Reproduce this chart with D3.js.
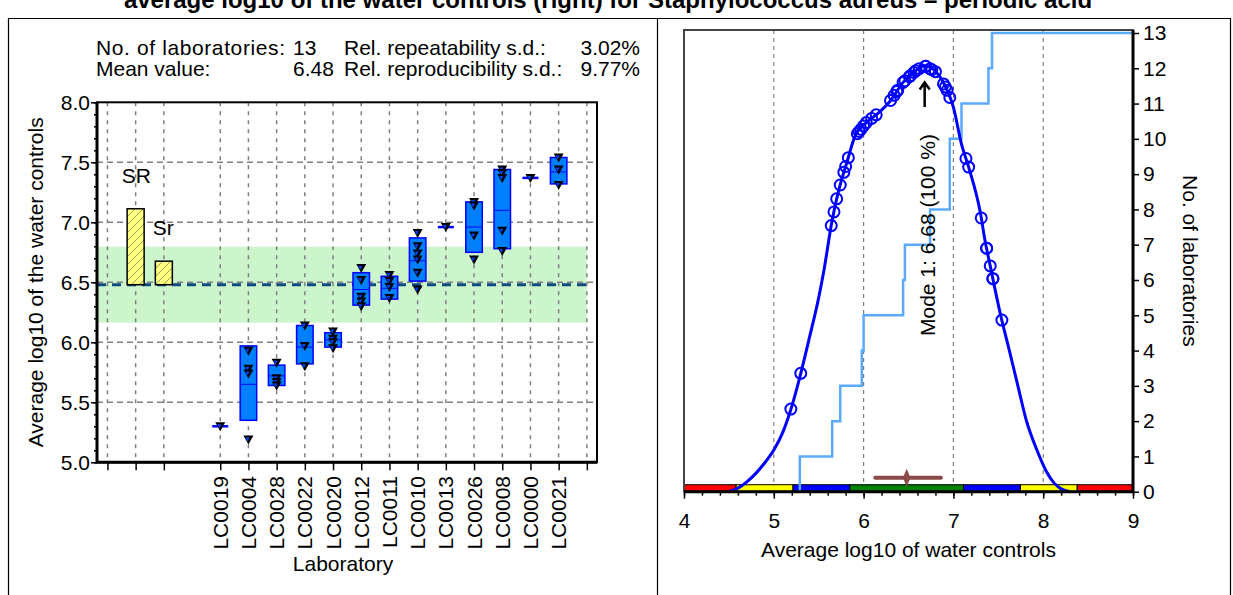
<!DOCTYPE html>
<html lang="en">
<head>
<meta charset="UTF-8">
<title>Average log10 of the water controls</title>
<script src="https://d3js.org/d3.v7.min.js"></script>
<style>
    body { margin: 0; background: #fff; }
    svg text { font-family: "Liberation Sans", Arial, sans-serif; font-size: 21px; fill: #000; }
    .axis path { display: none; }
    .axis line { stroke: #000; stroke-width: 1.5; }
    .axis text { font-size: 21px; }
</style>
</head>
<body>
<svg id="chart" width="1233" height="595"></svg>
<script>
// ---- data ----
const titleText = "average log10 of the water controls (right) for Staphylococcus aureus \u2013 periodic acid";

const labs = ["LC0019", "LC0004", "LC0028", "LC0022", "LC0020", "LC0012", "LC0011",
              "LC0010", "LC0013", "LC0026", "LC0008", "LC0000", "LC0021"];
const boxLow  = [5.30, 5.35, 5.64, 5.82, 5.96, 6.31, 6.36, 6.51, 6.96, 6.75, 6.78, 7.37, 7.32];
const boxHigh = [5.30, 5.97, 5.81, 6.14, 6.08, 6.58, 6.55, 6.87, 6.96, 7.17, 7.44, 7.37, 7.54];
const boxMid  = [5.30, 5.65, 5.72, 5.96, 6.02, 6.44, 6.45, 6.68, 6.96, 6.96, 7.10, 7.37, 7.42];
const labMeans = [5.29, 5.65, 5.74, 5.98, 6.00, 6.44, 6.46, 6.74, 6.96, 6.96, 7.09, 7.39, 7.43];
const replicates = [
    [5.30],
    [5.93, 5.78, 5.74, 5.19],
    [5.83, 5.70, 5.67, 5.64],
    [6.14, 5.97, 5.80],
    [6.09, 6.03, 6.00, 5.95],
    [6.62, 6.52, 6.38, 6.34, 6.30],
    [6.56, 6.51, 6.46, 6.37],
    [6.91, 6.80, 6.74, 6.69, 6.58, 6.44],
    [6.96],
    [7.17, 7.14, 6.89, 6.69],
    [7.44, 7.41, 7.37, 6.93, 6.76],
    [7.37],
    [7.54, 7.44, 7.31]
];

const meanValue = 6.48;
const sdLabels = ["SR", "Sr"];
const sdValues = [0.633, 0.196];
const statsRows = [
    ["No. of laboratories:", "13", "Rel. repeatability s.d.:", "3.02%"],
    ["Mean value:", "6.48", "Rel. reproducibility s.d.:", "9.77%"]
];

// kernel density (x, height in count units)
const densityX = [4.50, 4.60, 4.70, 4.80, 4.90, 5.00, 5.10, 5.18, 5.29, 5.40, 5.50, 5.56, 5.645, 5.70,
                  5.756, 5.81, 5.90, 6.03, 6.15, 6.29, 6.44, 6.59, 6.68, 6.81, 6.925, 7.00, 7.09,
                  7.17, 7.30, 7.35, 7.41, 7.52, 7.63, 7.72, 7.81, 7.93, 8.04, 8.12, 8.20, 8.30];
const densityY = [0.00, 0.10, 0.28, 0.52, 0.82, 1.18, 1.68, 2.25, 3.25, 4.40, 5.50, 6.30, 7.62, 8.30,
                  8.85, 9.30, 10.05, 10.46, 10.70, 11.05, 11.60, 11.95, 12.07, 11.89, 11.41, 10.90, 9.85,
                  9.20, 7.91, 7.15, 6.40, 5.07, 3.93, 2.98, 2.04, 1.18, 0.55, 0.25, 0.08, 0.00];
const modeValue = 6.68;
const modeText = "Mode 1: 6.68  (100 %)";
const bandSteps = [-3, -2, -1, 1, 2, 3];
const bandColors = ["#ff0000", "#ffff00", "#0000ff", "#008000", "#0000ff", "#ffff00", "#ff0000"];
const meanInterval = [6.13, 6.86];

const svg = d3.select("#chart");

// ---- page frame + title ----
svg.append("text")
    .attr("x", 608).attr("y", 8)
    .attr("text-anchor", "middle")
    .style("font-weight", "bold").style("font-size", "24px")
    .text(titleText);

const frame = svg.append("g").attr("stroke", "#000").attr("stroke-width", 1.2);
frame.append("line").attr("x1", 8).attr("x2", 1231).attr("y1", 18.5).attr("y2", 18.5);
[8.5, 657.5, 1230.5].forEach(x =>
    frame.append("line").attr("x1", x).attr("x2", x).attr("y1", 18).attr("y2", 595));

// =================== LEFT: laboratory box plot ===================
const xL = d3.scaleLinear().domain([-0.37, 17.36]).range([97, 597]);
const yL = d3.scaleLinear().domain([5, 8]).range([462.3, 102.3]);
const left = svg.append("g");

// stats text
statsRows.forEach((row, i) => {
    const y = 55 + i * 21;
    const t0 = left.append("text").attr("x", 96).attr("y", y).text(row[0]);
    if (i === 0) t0.attr("textLength", 189).attr("lengthAdjust", "spacing");
    left.append("text").attr("x", 293).attr("y", y).text(row[1]);
    left.append("text").attr("x", 344).attr("y", y).text(row[2]);
    left.append("text").attr("x", 640).attr("y", y).attr("text-anchor", "end").text(row[3]);
});

// green band = mean +/- SR/2
left.append("rect")
    .attr("x", xL.range()[0]).attr("width", xL(17) - xL.range()[0])
    .attr("y", yL(meanValue + sdValues[0] / 2))
    .attr("height", yL(meanValue - sdValues[0] / 2) - yL(meanValue + sdValues[0] / 2))
    .attr("fill", "#ccf5cc");

// grid
const slots = d3.range(0, 18).filter(i => i !== 3);
left.append("g").selectAll("line").data(slots).join("line")
    .attr("x1", d => xL(d)).attr("x2", d => xL(d))
    .attr("y1", yL(8)).attr("y2", yL(5))
    .attr("stroke", "#808080").attr("stroke-width", 1.5).attr("stroke-dasharray", "4,5");
left.append("g").selectAll("line").data([5.5, 6, 6.5, 7, 7.5]).join("line")
    .attr("x1", xL.range()[0]).attr("x2", xL.range()[1])
    .attr("y1", d => yL(d)).attr("y2", d => yL(d))
    .attr("stroke", "#808080").attr("stroke-width", 1.5).attr("stroke-dasharray", "6,4");

// mean line
left.append("line")
    .attr("x1", xL.range()[0]).attr("x2", xL(17) + 4)
    .attr("y1", yL(meanValue)).attr("y2", yL(meanValue))
    .attr("stroke", "#0d4a80").attr("stroke-width", 3).attr("stroke-dasharray", "9,6");

// SR / Sr bars with hatching
const defs = svg.append("defs");
const pat = defs.append("pattern").attr("id", "hatch")
    .attr("patternUnits", "userSpaceOnUse").attr("width", 8).attr("height", 8);
pat.append("rect").attr("width", 8).attr("height", 8).attr("fill", "#ffff80");
pat.append("path").attr("d", "M-2,2 l4,-4 M0,8 l8,-8 M6,10 l4,-4")
    .attr("stroke", "#a0a060").attr("stroke-width", 1);

sdValues.forEach((v, i) => {
    const cx = xL(i + 1);
    left.append("rect")
        .attr("x", cx - 8.5).attr("width", 17)
        .attr("y", yL(meanValue + v)).attr("height", yL(meanValue) - yL(meanValue + v))
        .attr("fill", "url(#hatch)").attr("stroke", "#000").attr("stroke-width", 1.5);
});
left.append("text").attr("x", xL(1) - 14).attr("y", yL(meanValue + sdValues[0]) - 26).text(sdLabels[0]);
left.append("text").attr("x", xL(1) + 17).attr("y", yL(meanValue + sdValues[1]) - 26).text(sdLabels[1]);

// boxes
const boxW = 16.5;
labs.forEach((lab, i) => {
    const cx = xL(i + 4);
    const g = left.append("g");
    if (boxHigh[i] - boxLow[i] < 0.01) {
        g.append("line")
            .attr("x1", cx - 8).attr("x2", cx + 8)
            .attr("y1", yL(boxMid[i])).attr("y2", yL(boxMid[i]))
            .attr("stroke", "#0000ff").attr("stroke-width", 2.5);
    } else {
        g.append("rect")
            .attr("x", cx - boxW / 2).attr("width", boxW)
            .attr("y", yL(boxHigh[i])).attr("height", yL(boxLow[i]) - yL(boxHigh[i]))
            .attr("fill", "#0080ff").attr("stroke", "#0000ff").attr("stroke-width", 1.5);
        g.append("line")
            .attr("x1", cx - boxW / 2).attr("x2", cx + boxW / 2)
            .attr("y1", yL(boxMid[i])).attr("y2", yL(boxMid[i]))
            .attr("stroke", "#0000ff").attr("stroke-width", 1);
    }
    // replicate markers
    g.selectAll(".mk").data(replicates[i]).join("g")
        .attr("class", "mk")
        .attr("transform", d => `translate(${cx},${yL(d)})`)
        .each(function () {
            const m = d3.select(this);
            m.append("path").attr("d", "M-5,-4 L5,-4 L0,5 Z").attr("fill", "#000");
            m.append("path").attr("d", "M-3,-2 L1,-2 L-1,2 Z").attr("fill", "#0040ff");
        });
});

// axes
left.append("g").attr("class", "axis")
    .attr("transform", `translate(${xL.range()[0]},0)`)
    .call(d3.axisLeft(yL).tickValues(d3.range(5, 8.01, 0.1)).tickSize(3).tickFormat(""));
left.append("g").attr("class", "axis")
    .attr("transform", `translate(${xL.range()[0]},0)`)
    .call(d3.axisLeft(yL).tickValues(d3.range(5, 8.01, 0.5)).tickSize(6).tickPadding(1)
        .tickFormat(d3.format(".1f")));
left.append("g").attr("class", "axis")
    .attr("transform", `translate(0,${yL(5)})`)
    .call(d3.axisBottom(xL).tickValues(slots).tickSize(8).tickFormat(""));

left.selectAll(".lab").data(labs).join("text")
    .attr("class", "lab")
    .attr("transform", (d, i) => `translate(${xL(i + 4) + 7.5},476) rotate(-90)`)
    .attr("text-anchor", "end")
    .text(d => d);

// frame
left.append("rect")
    .attr("x", xL.range()[0]).attr("y", yL(8))
    .attr("width", xL.range()[1] - xL.range()[0]).attr("height", yL(5) - yL(8))
    .attr("fill", "none").attr("stroke", "#000").attr("stroke-width", 2);
left.append("path")
    .attr("d", `M${xL.range()[0]},${yL(8)} V${yL(5)} H${xL.range()[1]}`)
    .attr("fill", "none").attr("stroke", "#000").attr("stroke-width", 3);

left.append("text")
    .attr("transform", `translate(43,${(yL(5) + yL(8)) / 2}) rotate(-90)`)
    .attr("text-anchor", "middle")
    .text("Average log10 of the water controls");
left.append("text")
    .attr("x", 343).attr("y", 571).attr("text-anchor", "middle")
    .text("Laboratory");

// =================== RIGHT: kernel density ===================
const xR = d3.scaleLinear().domain([4, 9]).range([684, 1133]);
const yR = d3.scaleLinear().domain([0, 13]).range([491.7, 33]);
const right = svg.append("g");
const plotTop = 30;

right.append("g").selectAll("line").data([5, 6, 7, 8]).join("line")
    .attr("x1", d => xR(d)).attr("x2", d => xR(d))
    .attr("y1", plotTop).attr("y2", yR(0))
    .attr("stroke", "#808080").attr("stroke-width", 1.2).attr("stroke-dasharray", "4,4");

// colour bar: mean +/- k*SR
const bounds = [4].concat(bandSteps.map(k => meanValue + k * sdValues[0]), [9]);
right.append("g").selectAll("rect").data(bandColors).join("rect")
    .attr("x", (d, i) => xR(bounds[i]))
    .attr("width", (d, i) => xR(bounds[i + 1]) - xR(bounds[i]))
    .attr("y", yR(0) - 7).attr("height", 7)
    .attr("fill", d => d).attr("stroke", "#000").attr("stroke-width", 1);

// cumulative number of laboratories
const sortedMeans = labMeans.slice().sort(d3.ascending);
const stepPts = [[sortedMeans[0], 0]].concat(sortedMeans.map((m, i) => [m, i + 1]), [[9, 13]]);
right.append("path")
    .attr("d", d3.line().x(d => xR(d[0])).y(d => yR(d[1])).curve(d3.curveStepAfter)(stepPts))
    .attr("fill", "none").attr("stroke", "#5aabff").attr("stroke-width", 2.5);

// density curve
const densPts = densityX.map((x, i) => [x, densityY[i]]);
right.append("path")
    .attr("d", d3.line().x(d => xR(d[0])).y(d => yR(d[1])).curve(d3.curveMonotoneX)(densPts))
    .attr("fill", "none").attr("stroke", "#0000ff").attr("stroke-width", 3);

const bis = d3.bisector(d => d).left;
function densityAt(v) {
    const j = Math.max(1, Math.min(densityX.length - 1, bis(densityX, v)));
    const t = (v - densityX[j - 1]) / (densityX[j] - densityX[j - 1]);
    return densityY[j - 1] + t * (densityY[j] - densityY[j - 1]);
}
right.append("g").selectAll("circle").data(replicates.flat()).join("circle")
    .attr("cx", d => xR(d)).attr("cy", d => yR(densityAt(d)))
    .attr("r", 5.5)
    .attr("fill", "none").attr("stroke", "#0000ff").attr("stroke-width", 2);

// mean with interval
const brown = "#8b4a47";
right.append("line")
    .attr("x1", xR(meanInterval[0])).attr("x2", xR(meanInterval[1]))
    .attr("y1", yR(0) - 14).attr("y2", yR(0) - 14)
    .attr("stroke", brown).attr("stroke-width", 4).attr("stroke-linecap", "round");
right.append("path")
    .attr("d", `M${xR(meanValue)},${yR(0) - 21} L${xR(meanValue) + 3},${yR(0) - 14} L${xR(meanValue)},${yR(0) - 7} L${xR(meanValue) - 3},${yR(0) - 14} Z`)
    .attr("fill", brown).attr("stroke", brown).attr("stroke-width", 1.5);

// mode arrow + label
const mx = xR(modeValue);
right.append("path")
    .attr("d", `M${mx},${yR(10.9)} V${yR(11.6)} M${mx - 5},${yR(11.6) + 7} L${mx},${yR(11.6)} L${mx + 5},${yR(11.6) + 7}`)
    .attr("fill", "none").attr("stroke", "#000").attr("stroke-width", 2.5);
right.append("text")
    .attr("transform", `translate(${mx + 10},336) rotate(-90)`)
    .text(modeText);

// axes
right.append("g").attr("class", "axis")
    .attr("transform", `translate(0,${yR(0)})`)
    .call(d3.axisBottom(xR).tickValues(d3.range(4, 9.01, 0.2)).tickSize(4).tickFormat(""));
right.append("g").attr("class", "axis")
    .attr("transform", `translate(0,${yR(0)})`)
    .call(d3.axisBottom(xR).tickValues(d3.range(4, 9.01, 1)).tickSize(7).tickPadding(14)
        .tickFormat(d3.format("d")));
right.append("g").attr("class", "axis")
    .attr("transform", `translate(${xR(9)},0)`)
    .call(d3.axisRight(yR).ticks(13).tickSize(6).tickPadding(4).tickFormat(d3.format("d")));

right.append("rect")
    .attr("x", xR(4)).attr("y", plotTop)
    .attr("width", xR(9) - xR(4)).attr("height", yR(0) - plotTop)
    .attr("fill", "none").attr("stroke", "#444").attr("stroke-width", 2);
right.append("path")
    .attr("d", `M${xR(4)},${yR(0)} H${xR(9)} V${plotTop}`)
    .attr("fill", "none").attr("stroke", "#000").attr("stroke-width", 3);

right.append("text")
    .attr("x", (xR(4) + xR(9)) / 2).attr("y", 557).attr("text-anchor", "middle")
    .text("Average log10 of water controls");
right.append("text")
    .attr("transform", `translate(1183,${(yR(0) + plotTop) / 2}) rotate(90)`)
    .attr("text-anchor", "middle")
    .text("No. of laboratories");
</script>
</body>
</html>
